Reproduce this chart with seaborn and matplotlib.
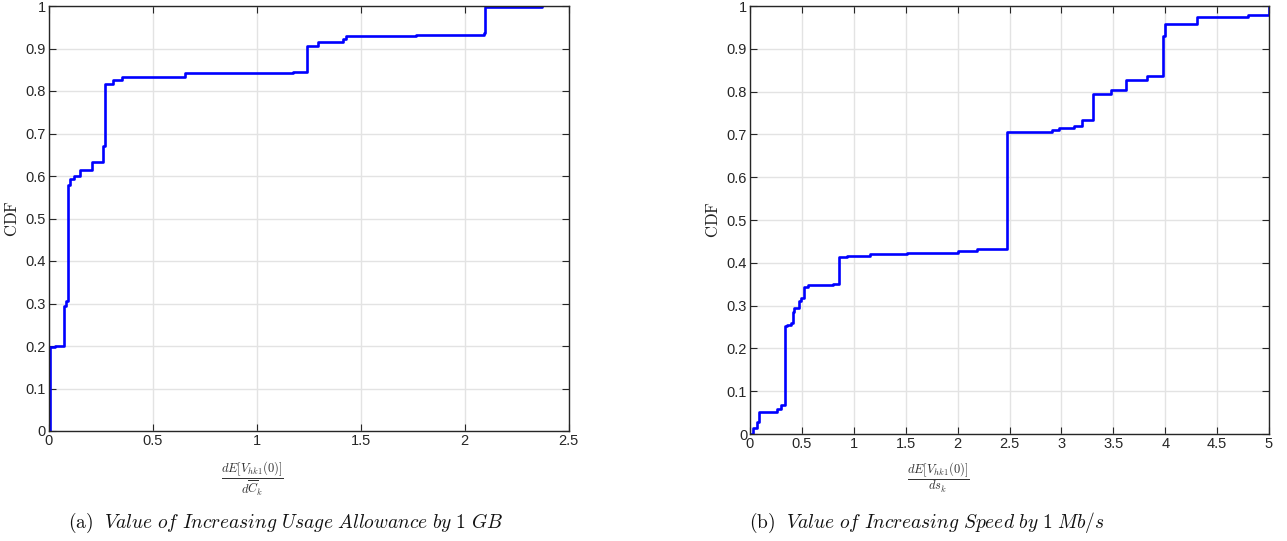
import matplotlib
matplotlib.use("Agg")
import matplotlib.pyplot as plt
import seaborn as sns
import pandas as pd
import numpy as np
from matplotlib import font_manager
from matplotlib.ticker import FuncFormatter

# ---- data ----
x_a = [0.006, 0.007, 0.03, 0.074, 0.083, 0.094, 0.102, 0.12, 0.15, 0.21, 0.26, 0.272,
       0.31, 0.351, 0.655, 1.173, 1.24, 1.293, 1.416, 1.428, 1.766, 2.094, 2.099, 2.373]
cdf_a = [0.0, 0.197, 0.2, 0.295, 0.305, 0.579, 0.594, 0.6, 0.614, 0.634, 0.671, 0.816,
         0.825, 0.833, 0.843, 0.845, 0.907, 0.916, 0.922, 0.929, 0.932, 0.936, 0.998, 0.999]

x_b = [0.0, 0.032, 0.064, 0.087, 0.256, 0.298, 0.337, 0.353, 0.394, 0.41, 0.426, 0.468,
       0.487, 0.522, 0.561, 0.795, 0.859, 0.93, 1.04, 1.16, 1.51, 2.0, 2.19, 2.41, 2.48,
       2.907, 2.98, 3.12, 3.2, 3.30, 3.48, 3.62, 3.82, 3.98, 3.997, 4.31, 4.795, 5.0]
cdf_b = [0.0, 0.015, 0.029, 0.052, 0.059, 0.068, 0.252, 0.255, 0.26, 0.284, 0.294, 0.311,
         0.318, 0.343, 0.347, 0.35, 0.413, 0.415, 0.417, 0.42, 0.423, 0.428, 0.432, 0.433,
         0.705, 0.71, 0.715, 0.719, 0.734, 0.795, 0.803, 0.826, 0.836, 0.93, 0.957, 0.975,
         0.98, 1.0]

xticks_a = [0, 0.5, 1, 1.5, 2, 2.5]
xticks_b = [0, 0.5, 1, 1.5, 2, 2.5, 3, 3.5, 4, 4.5, 5]
yticks = [0, 0.1, 0.2, 0.3, 0.4, 0.5, 0.6, 0.7, 0.8, 0.9, 1]

xlabel_a = r"$\dfrac{dE[V_{hk1}(0)]}{d\overline{C}_k}$"
xlabel_b = r"$\dfrac{dE[V_{hk1}(0)]}{ds_k}$"
caption_a = r"$\mathrm{(a)}\ \ \mathit{Value\ of\ Increasing\ Usage\ Allowance\ by\ 1\ GB}$"
caption_b = r"$\mathrm{(b)}\ \ \mathit{Value\ of\ Increasing\ Speed\ by\ 1\ Mb/s}$"

sns.set_theme(style="white")
names = {f.name for f in font_manager.fontManager.ttflist}
tick_font = "Liberation Sans Narrow" if "Liberation Sans Narrow" in names else "Liberation Sans"
plt.rcParams["font.family"] = [tick_font, "DejaVu Sans"]
plt.rcParams["mathtext.fontset"] = "cm"

fig = plt.figure(figsize=(12.87, 5.41), dpi=100)
ax_a = fig.add_axes([48.7 / 1287, (541 - 431) / 541, 520 / 1287, 425 / 541])
ax_b = fig.add_axes([750 / 1287, (541 - 434) / 541, 519 / 1287, 428 / 541])

fmt = FuncFormatter(lambda v, p: ("%g" % round(v, 3)))

for ax, xs, ys, xt, xl, lblx, lbly in [
    (ax_a, x_a, cdf_a, xticks_a, xlabel_a, 0.391, -0.068),
    (ax_b, x_b, cdf_b, xticks_b, xlabel_b, 0.362, -0.062),
]:
    df = pd.DataFrame({"x": xs, "cdf": ys})
    sns.lineplot(data=df, x="x", y="cdf", ax=ax, sort=False, estimator=None,
                 drawstyle="steps-post", color="#0000ff", linewidth=1.9)
    ax.set_xlim(xt[0], xt[-1])
    ax.set_ylim(0, 1)
    ax.set_xticks(xt)
    ax.set_yticks(yticks)
    ax.xaxis.set_major_formatter(fmt)
    ax.yaxis.set_major_formatter(fmt)
    ax.grid(True, color="#e3e3e3", linewidth=1.0)
    ax.set_axisbelow(True)
    for s in ax.spines.values():
        s.set_color("#262626")
        s.set_linewidth(1.0)
        s.set_visible(True)
    ax.tick_params(axis="both", which="major", direction="in", length=5, width=0.8,
                   color="#262626", labelsize=10.5, labelcolor="#262626",
                   top=True, right=True, bottom=True, left=True, pad=2)
    ax.set_xlabel(xl, fontsize=9, color="#333333")
    ax.xaxis.set_label_coords(lblx, lbly)
    ax.set_ylabel(r"$\mathrm{CDF}$", fontsize=12, color="#222222", labelpad=4)

fig.text(286 / 1287, 1 - 523 / 541, caption_a, ha="center", va="center", fontsize=14, color="#111111")
fig.text(927 / 1287, 1 - 523 / 541, caption_b, ha="center", va="center", fontsize=14, color="#111111")

fig.savefig("out.png", dpi=100)
